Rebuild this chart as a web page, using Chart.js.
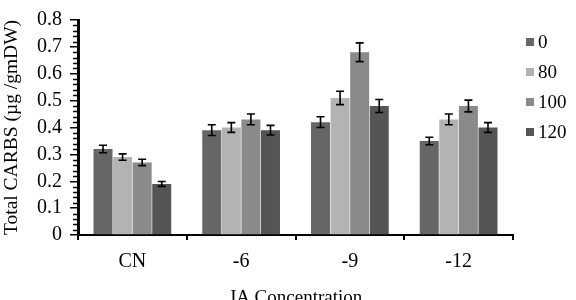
<!DOCTYPE html>
<html>
<head>
<meta charset="utf-8">
<script src="https://cdn.jsdelivr.net/npm/chart.js@4"></script>
<style>
  html, body { margin: 0; padding: 0; background: #fff; }
  #wrap { width: 576px; height: 300px; }
</style>
</head>
<body>
<div id="wrap"><canvas id="carbs"></canvas></div>
<script>
const categories = ['CN', '-6', '-9', '-12'];
const seriesNames = ['0', '80', '100', '120'];
const seriesColors = ['#666666', '#b3b3b3', '#8a8a8a', '#555555'];

const values0 = [0.32, 0.39, 0.42, 0.35];
const values80 = [0.29, 0.40, 0.51, 0.43];
const values100 = [0.27, 0.43, 0.68, 0.48];
const values120 = [0.19, 0.39, 0.48, 0.40];

const err0 = [0.014, 0.02, 0.02, 0.014];
const err80 = [0.012, 0.018, 0.025, 0.02];
const err100 = [0.012, 0.02, 0.035, 0.022];
const err120 = [0.009, 0.018, 0.024, 0.018];

const allValues = [values0, values80, values100, values120];
const allErrors = [err0, err80, err100, err120];

const serif = '"Liberation Serif", "DejaVu Serif", serif';

// error bars drawn on top of every bar
const errorBars = {
  id: 'errorBars',
  afterDatasetsDraw(chart) {
    const ctx = chart.ctx;
    const y = chart.scales.y;
    ctx.save();
    ctx.strokeStyle = '#000';
    ctx.lineWidth = 1.6;
    chart.data.datasets.forEach((ds, di) => {
      const meta = chart.getDatasetMeta(di);
      meta.data.forEach((bar, i) => {
        const v = ds.data[i];
        const e = ds.errors[i];
        const top = y.getPixelForValue(v + e);
        const bot = y.getPixelForValue(v - e);
        ctx.beginPath();
        ctx.moveTo(bar.x, top); ctx.lineTo(bar.x, bot);
        ctx.moveTo(bar.x - 4, top); ctx.lineTo(bar.x + 4, top);
        ctx.moveTo(bar.x - 4, bot); ctx.lineTo(bar.x + 4, bot);
        ctx.stroke();
      });
    });
    ctx.restore();
  }
};

// small minor ticks on the value axis
const minorTicks = {
  id: 'minorTicks',
  afterDraw(chart) {
    const ctx = chart.ctx;
    const y = chart.scales.y;
    const x0 = chart.chartArea.left;
    ctx.save();
    ctx.strokeStyle = '#000';
    ctx.lineWidth = 1.5;
    for (let k = 0; k <= 40; k++) {
      if (k % 5 === 0) continue;
      const py = Math.round(y.getPixelForValue(k * 0.02)) + 0.5;
      ctx.beginPath();
      ctx.moveTo(x0 - 5, py); ctx.lineTo(x0, py);
      ctx.stroke();
    }
    ctx.restore();
  }
};

// legend box on the right
const sideLegend = {
  id: 'sideLegend',
  afterDraw(chart) {
    const ctx = chart.ctx;
    ctx.save();
    ctx.font = '19px ' + serif;
    ctx.textBaseline = 'middle';
    seriesNames.forEach((name, i) => {
      const cy = 42 + i * 30;
      ctx.fillStyle = seriesColors[i];
      ctx.fillRect(526, cy - 4, 8, 8);
      ctx.fillStyle = '#000';
      ctx.fillText(name, 538, cy + 1);
    });
    ctx.restore();
  }
};

new Chart(document.getElementById('carbs'), {
  type: 'bar',
  plugins: [errorBars, minorTicks, sideLegend],
  data: {
    labels: categories,
    datasets: seriesNames.map((name, i) => ({
      label: name,
      data: allValues[i],
      errors: allErrors[i],
      backgroundColor: seriesColors[i],
      borderWidth: 0,
      categoryPercentage: 0.72,
      barPercentage: 0.97,
    }))
  },
  options: {
    responsive: true,
    maintainAspectRatio: false,
    animation: false,
    layout: {
      padding: { top: 6, right: 63, bottom: -9, left: 0 }
    },
    plugins: {
      legend: { display: false },
      tooltip: { enabled: false },
    },
    scales: {
      x: {
        border: { display: true, color: '#000', width: 2 },
        grid: {
          offset: true,
          drawOnChartArea: false,
          drawTicks: true,
          tickLength: 5,
          color: '#000',
          lineWidth: 2,
        },
        ticks: {
          color: '#000',
          font: { family: serif, size: 20 },
          padding: 10,
        },
        title: {
          display: true,
          text: 'JA Concentration',
          color: '#000',
          font: { family: serif, size: 19 },
          padding: { top: 8, bottom: 0 },
        },
        afterFit(scale) { scale.height = 74; }
      },
      y: {
        min: 0,
        max: 0.8,
        border: { display: true, color: '#000', width: 3 },
        grid: {
          drawOnChartArea: false,
          drawTicks: true,
          tickLength: 8,
          color: '#000',
          lineWidth: 1.5,
        },
        ticks: {
          stepSize: 0.1,
          autoSkip: false,
          color: '#000',
          font: { family: serif, size: 20 },
          padding: 8,
          callback: (v) => Number(v.toFixed(1)).toString(),
        },
        title: {
          display: true,
          text: 'Total CARBS (µg /gmDW)',
          color: '#000',
          font: { family: serif, size: 19.5 },
          padding: { top: 0, bottom: 2 },
        },
        afterFit(scale) { scale.width = 78; }
      }
    }
  }
});
</script>
</body>
</html>
